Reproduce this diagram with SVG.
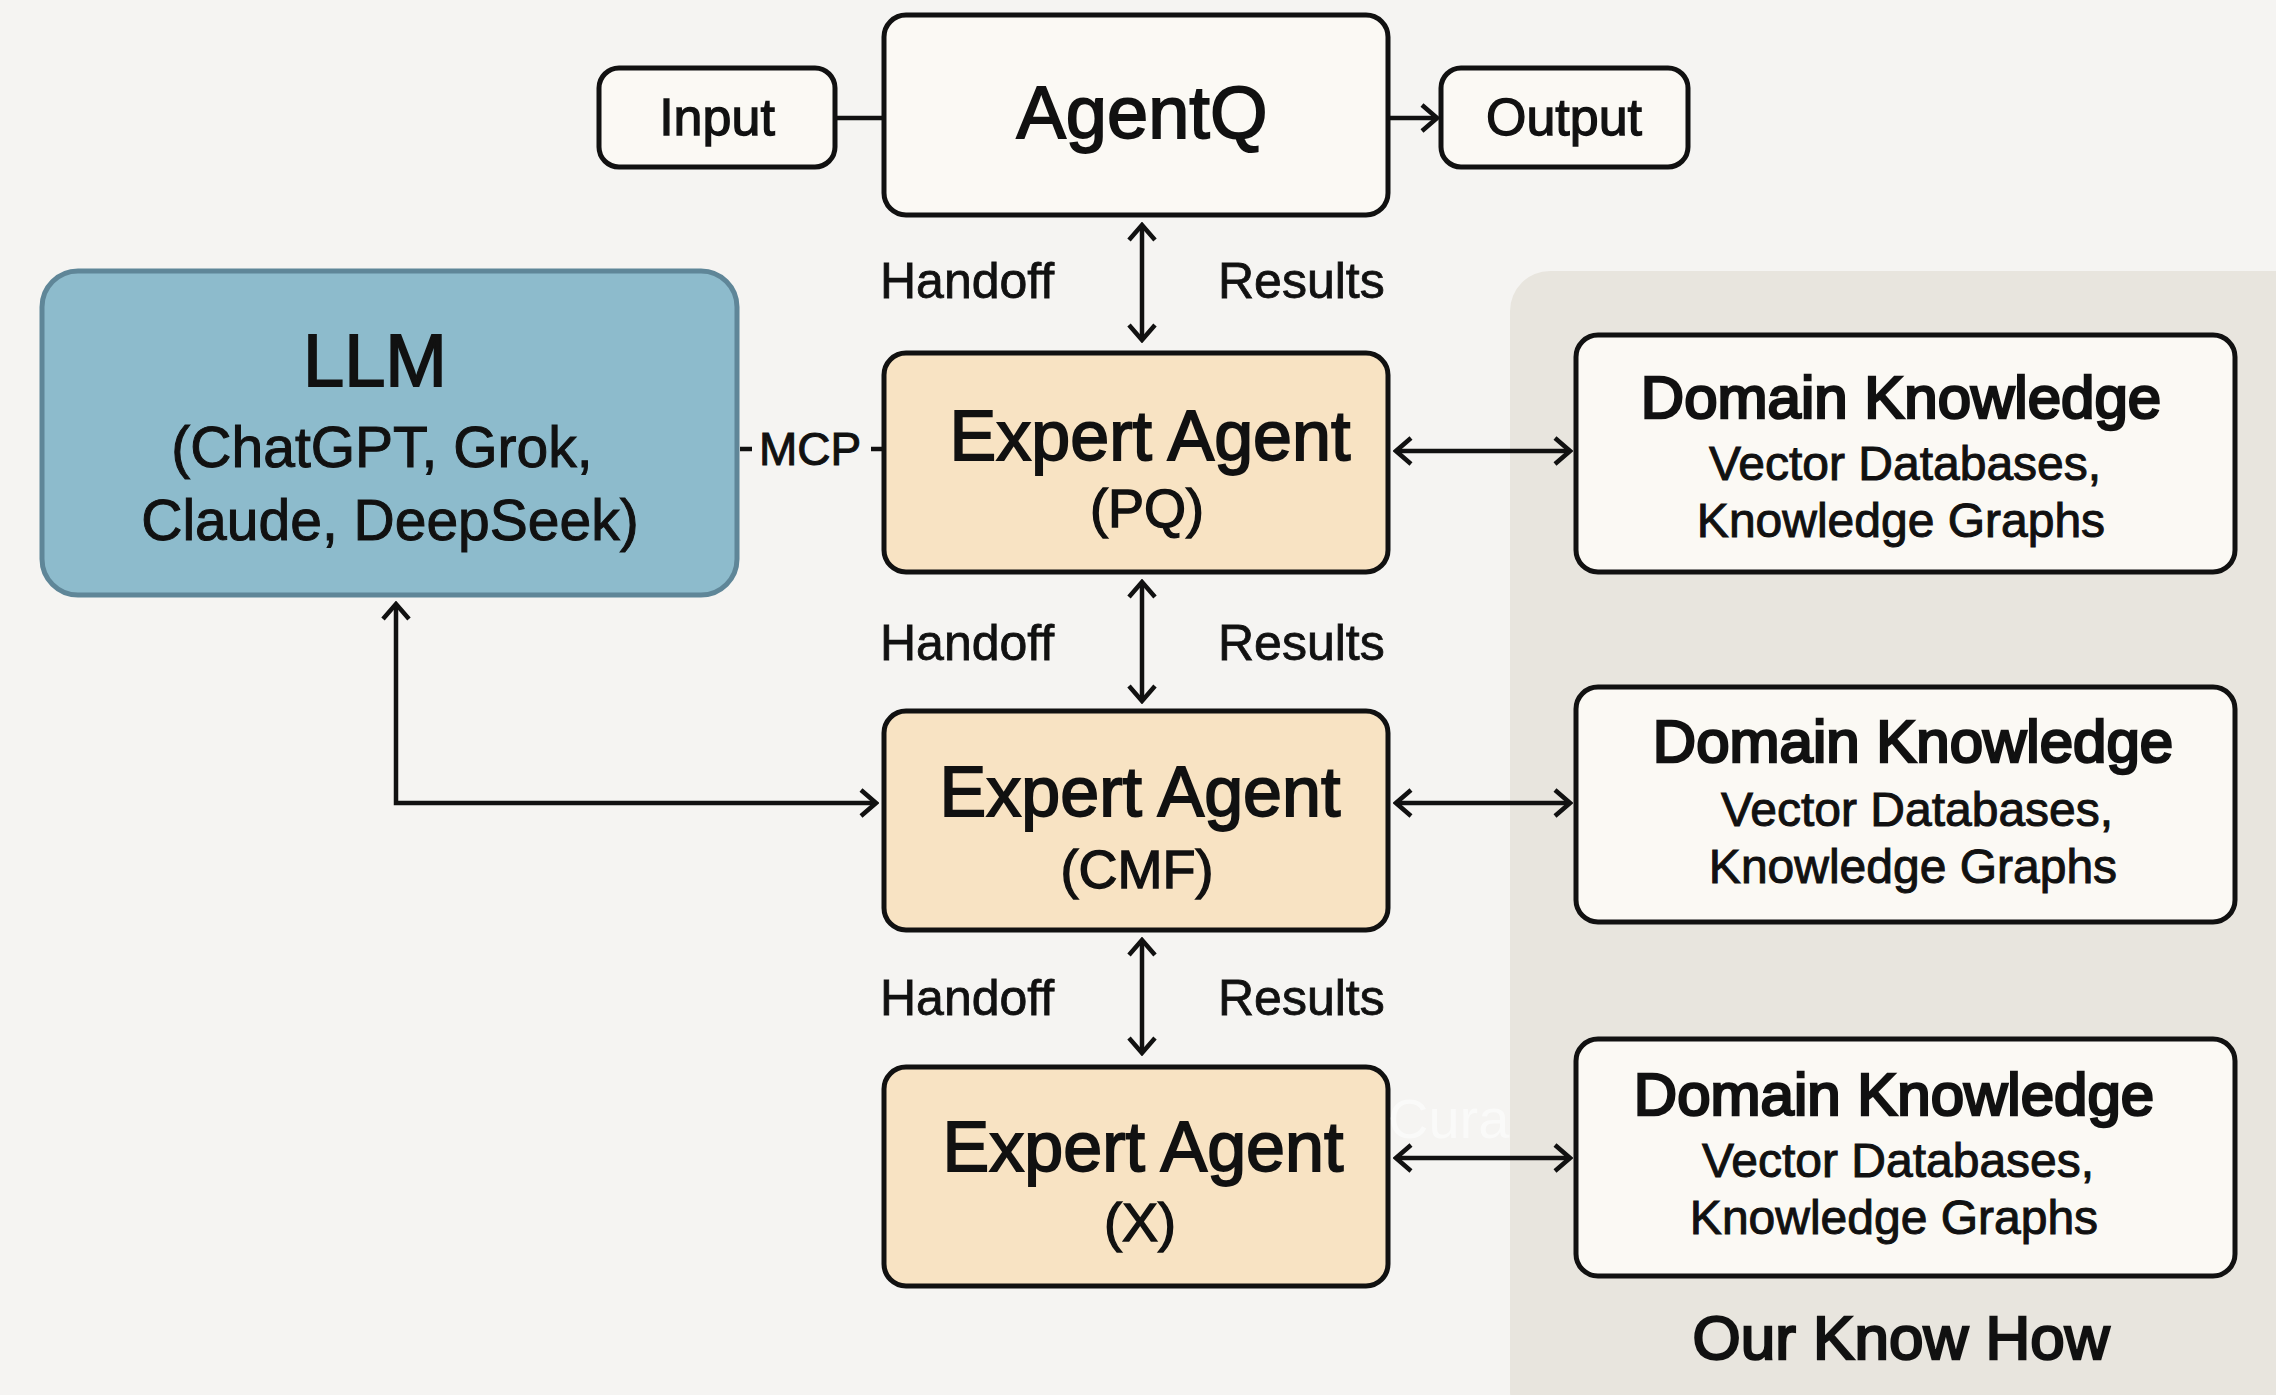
<svg xmlns="http://www.w3.org/2000/svg" width="2276" height="1395" viewBox="0 0 2276 1395">
<defs>
<style>
text{font-family:"Liberation Sans",Arial,sans-serif;fill:#111;text-anchor:middle;stroke:#111;stroke-width:0.8}
.box{fill:#fbf9f4;stroke:#111;stroke-width:5}
.exp{fill:#f8e3c3;stroke:#111;stroke-width:5}
.llm{fill:#8dbbcc;stroke:#5f8698;stroke-width:5}
.conn{fill:none;stroke:#111;stroke-width:4.5}
.lbl{font-size:50px;text-anchor:start}
.title{font-size:74px;stroke-width:1.8}
.sub{font-size:54px;stroke-width:1.4}
.exa{font-size:70px;stroke-width:1.8}
.dkt{font-size:60px;stroke-width:2.6}
.dks{font-size:48px;stroke-width:1}
</style>
<marker id="ah" viewBox="0 0 22 30" refX="19" refY="15" markerWidth="22" markerHeight="30" markerUnits="userSpaceOnUse" orient="auto-start-reverse">
<path d="M4,2 L19,15 L4,28" fill="none" stroke="#111" stroke-width="4.5"/>
</marker>
</defs>
<rect width="2276" height="1395" fill="#f5f4f2"/>
<g id="panel">
<rect x="1510" y="271" width="820" height="1160" rx="40" fill="#e8e5de"/>
<text x="1901" y="1359" style="font-size:62px;stroke-width:2.4">Our Know How</text>
</g>
<g id="connectors">
<line class="conn" x1="835" y1="118" x2="884" y2="118"/>
<line class="conn" x1="1388" y1="118" x2="1437" y2="118" marker-end="url(#ah)"/>
<line class="conn" x1="1142" y1="225" x2="1142" y2="340" marker-start="url(#ah)" marker-end="url(#ah)"/>
<line class="conn" x1="1142" y1="582" x2="1142" y2="701" marker-start="url(#ah)" marker-end="url(#ah)"/>
<line class="conn" x1="1142" y1="940" x2="1142" y2="1053" marker-start="url(#ah)" marker-end="url(#ah)"/>
<line class="conn" x1="1396" y1="451" x2="1570" y2="451" marker-start="url(#ah)" marker-end="url(#ah)"/>
<line class="conn" x1="1396" y1="803" x2="1570" y2="803" marker-start="url(#ah)" marker-end="url(#ah)"/>
<line class="conn" x1="1396" y1="1158" x2="1570" y2="1158" marker-start="url(#ah)" marker-end="url(#ah)"/>
<polyline class="conn" points="396,604 396,803 876,803" marker-start="url(#ah)" marker-end="url(#ah)"/>
<line class="conn" x1="740" y1="449" x2="752" y2="449"/>
<line class="conn" x1="871" y1="449" x2="883" y2="449"/>
<text x="810" y="465" style="font-size:46px;stroke-width:1">MCP</text>
<text class="lbl" x="880" y="298">Handoff</text>
<text class="lbl" x="1218" y="298">Results</text>
<text class="lbl" x="880" y="660">Handoff</text>
<text class="lbl" x="1218" y="660">Results</text>
<text class="lbl" x="880" y="1015">Handoff</text>
<text class="lbl" x="1218" y="1015">Results</text>
</g>
<g id="input">
<rect class="box" x="599" y="68" width="236" height="99" rx="20"/>
<text x="717" y="135" style="font-size:52px;stroke-width:1.3">Input</text>
</g>
<g id="agentq">
<rect class="box" x="884" y="15" width="504" height="200" rx="22"/>
<text x="1142" y="138" class="title">AgentQ</text>
</g>
<g id="output">
<rect class="box" x="1441" y="68" width="247" height="99" rx="20"/>
<text x="1564" y="135" style="font-size:52px;stroke-width:1.3">Output</text>
</g>
<g id="llm">
<rect class="llm" x="42" y="271" width="695" height="324" rx="36"/>
<text x="375" y="386" class="title">LLM</text>
<text x="382" y="467" style="font-size:57px;stroke-width:1">(ChatGPT, Grok,</text>
<text x="390" y="540" style="font-size:57px;stroke-width:1">Claude, DeepSeek)</text>
</g>
<g id="expert-pq">
<rect class="exp" x="884" y="353" width="504" height="219" rx="22"/>
<text x="1150" y="460" class="exa">Expert Agent</text>
<text x="1147" y="527" class="sub">(PQ)</text>
</g>
<g id="expert-cmf">
<rect class="exp" x="884" y="711" width="504" height="219" rx="22"/>
<text x="1140" y="816" class="exa">Expert Agent</text>
<text x="1137" y="888" class="sub">(CMF)</text>
</g>
<g id="expert-x">
<rect class="exp" x="884" y="1067" width="504" height="219" rx="22"/>
<text x="1143" y="1171" class="exa">Expert Agent</text>
<text x="1140" y="1241" class="sub">(X)</text>
</g>
<g id="dk1">
<rect class="box" x="1576" y="335" width="659" height="237" rx="22"/>
<text x="1901" y="418" class="dkt">Domain Knowledge</text>
<text x="1905" y="480" class="dks">Vector Databases,</text>
<text x="1901" y="537" class="dks">Knowledge Graphs</text>
</g>
<g id="dk2">
<rect class="box" x="1576" y="687" width="659" height="235" rx="22"/>
<text x="1913" y="762" class="dkt">Domain Knowledge</text>
<text x="1917" y="826" class="dks">Vector Databases,</text>
<text x="1913" y="883" class="dks">Knowledge Graphs</text>
</g>
<g id="dk3">
<rect class="box" x="1576" y="1039" width="659" height="237" rx="22"/>
<text x="1894" y="1115" class="dkt">Domain Knowledge</text>
<text x="1898" y="1177" class="dks">Vector Databases,</text>
<text x="1894" y="1234" class="dks">Knowledge Graphs</text>
</g>
<text x="1388" y="1138" style="font-size:56px;fill:#ffffff;stroke:none;opacity:0.55;text-anchor:start">Cura</text>
</svg>
